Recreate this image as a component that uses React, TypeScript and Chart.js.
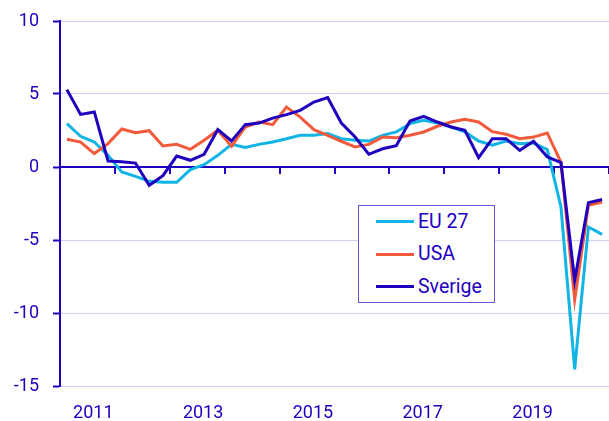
import React, { useEffect, useRef } from 'react';
import { Chart, registerables } from 'chart.js';

Chart.register(...registerables);

// Categories: quarters 2011K1 .. 2020K4
const years = ['2011', '2012', '2013', '2014', '2015', '2016', '2017', '2018', '2019', '2020'];
const quarterNames = ['K1', 'K2', 'K3', 'K4'];
const quarterLabels = years.flatMap((y) => quarterNames.map((q) => y + q));
const labelledYears = ['2011', '2013', '2015', '2017', '2019'];
const yTicks = [10, 5, 0, -5, -10, -15];

// Series values (annual % change)
const eu27 = [
  2.97, 2.1, 1.71, 0.8, -0.34, -0.64, -0.98, -1.05,
  -1.05, -0.18, 0.16, 0.8, 1.55, 1.33, 1.55, 1.71,
  1.94, 2.17, 2.17, 2.29, 1.94, 1.83, 1.78, 2.17,
  2.4, 2.97, 3.2, 3.01, 2.74, 2.4, 1.78, 1.49,
  1.78, 1.6, 1.65, 1.19, -2.74, -13.86, -4.11, -4.61,
];
const usa = [
  1.9, 1.71, 0.92, 1.6, 2.6, 2.35, 2.49, 1.44,
  1.55, 1.21, 1.83, 2.51, 1.42, 2.74, 3.08, 2.9,
  4.11, 3.42, 2.56, 2.17, 1.76, 1.37, 1.55, 2.05,
  2.01, 2.17, 2.4, 2.79, 3.08, 3.27, 3.08, 2.42,
  2.24, 1.94, 2.05, 2.33, 0.34, -9.08, -2.62, -2.4,
];
const sverige = [
  5.3, 3.6, 3.77, 0.41, 0.36, 0.27, -1.25, -0.59,
  0.75, 0.46, 0.87, 2.56, 1.78, 2.9, 3.01, 3.35,
  3.59, 3.88, 4.45, 4.75, 3.01, 2.05, 0.87, 1.25,
  1.46, 3.15, 3.47, 3.08, 2.74, 2.51, 0.64, 1.94,
  1.94, 1.14, 1.76, 0.7, 0.3, -7.76, -2.44, -2.23,
];

const DARK = '#1e00be';
const EU_COLOR = '#12b4e6';
const USA_COLOR = '#f25a3c';
const GRID = '#d3cff6';
const FONT = 'Roboto';

// Legend order (top to bottom)
const legendItems = [
  { label: 'EU 27', data: eu27, color: EU_COLOR },
  { label: 'USA', data: usa, color: USA_COLOR },
  { label: 'Sverige', data: sverige, color: DARK },
];
// Chart.js paints the first dataset on top, so Sverige first
const drawOrder = [legendItems[2], legendItems[1], legendItems[0]];

const zeroPadding = (s: any) => {
  s.paddingLeft = 0;
  s.paddingRight = 0;
  s.paddingTop = 0;
  s.paddingBottom = 0;
};

// Zero axis line with year tick marks, positioned through the chart's scales
const zeroAxisPlugin = {
  id: 'zeroAxis',
  beforeDatasetsDraw(chart: any) {
    const { ctx, chartArea, scales } = chart;
    const y0 = scales.y.getPixelForValue(0);
    ctx.save();
    ctx.strokeStyle = DARK;
    ctx.lineWidth = 2;
    ctx.beginPath();
    ctx.moveTo(chartArea.left, y0);
    ctx.lineTo(chartArea.right, y0);
    ctx.stroke();
    ctx.beginPath();
    for (let i = 0; i <= quarterLabels.length; i += quarterNames.length) {
      const x = Math.round(scales.x.getPixelForValue(i - 0.5));
      ctx.moveTo(x, y0);
      ctx.lineTo(x, y0 + 7);
    }
    ctx.stroke();
    ctx.restore();
  },
};

export default function App() {
  const canvasRef = useRef<HTMLCanvasElement | null>(null);

  useEffect(() => {
    const canvas = canvasRef.current;
    if (!canvas) return;
    const chart = new Chart(canvas, {
      type: 'line',
      data: {
        labels: quarterLabels,
        datasets: drawOrder.map((s) => ({
          label: s.label,
          data: s.data,
          borderColor: s.color,
          borderWidth: 3,
          pointRadius: 0,
          xAxisID: 'x',
          yAxisID: 'y',
        })),
      },
      options: {
        responsive: false,
        animation: false,
        layout: { padding: { top: 21, right: 0, bottom: 0, left: 0 } },
        plugins: { legend: { display: false }, tooltip: { enabled: false } },
        scales: {
          x: {
            type: 'category',
            position: 'bottom',
            offset: true,
            grid: { display: false, drawTicks: false },
            border: { display: false },
            ticks: {
              autoSkip: false,
              maxRotation: 0,
              minRotation: 0,
              color: DARK,
              font: { family: FONT, size: 18 },
              padding: 17,
              labelOffset: -1,
              callback: (_v: any, i: number) => {
                const lbl = quarterLabels[i];
                const y = lbl.slice(0, 4);
                return lbl.endsWith('K3') && labelledYears.includes(y) ? y : '';
              },
            },
            afterFit: (s: any) => {
              s.height = 35;
              zeroPadding(s);
            },
          },
          y: {
            type: 'linear',
            min: -15,
            max: 10,
            afterBuildTicks: (s: any) => {
              s.ticks = yTicks.map((v) => ({ value: v }));
            },
            ticks: { color: DARK, font: { family: FONT, size: 18 }, padding: 14 },
            grid: {
              color: GRID,
              lineWidth: 1,
              tickColor: DARK,
              tickLength: 7,
              tickWidth: 2,
            },
            border: { display: true, color: DARK, width: 2 },
            afterFit: (s: any) => {
              s.width = 60;
              zeroPadding(s);
            },
          },
        },
      },
      plugins: [zeroAxisPlugin],
    });
    return () => chart.destroy();
  }, []);

  return (
    <div style={{ position: 'absolute', left: 0, top: 0, width: 609, height: 421, background: '#fff' }}>
      <canvas ref={canvasRef} width={609} height={421} style={{ display: 'block' }} />
      <div
        style={{
          position: 'absolute',
          left: 358,
          top: 205,
          width: 137,
          height: 98,
          boxSizing: 'border-box',
          border: '1px solid #6457d8',
          background: '#fff',
          fontFamily: FONT,
          fontSize: 19.5,
          color: DARK,
        }}
      >
        {legendItems.map((s, i) => (
          <div
            key={s.label}
            style={{
              position: 'absolute',
              left: 17,
              top: 0.5 + i * 32.7,
              height: 30,
              display: 'flex',
              alignItems: 'center',
              whiteSpace: 'nowrap',
            }}
          >
            <span style={{ display: 'inline-block', width: 38, height: 3, background: s.color, marginRight: 4 }} />
            <span style={{ lineHeight: '30px' }}>{s.label}</span>
          </div>
        ))}
      </div>
    </div>
  );
}
